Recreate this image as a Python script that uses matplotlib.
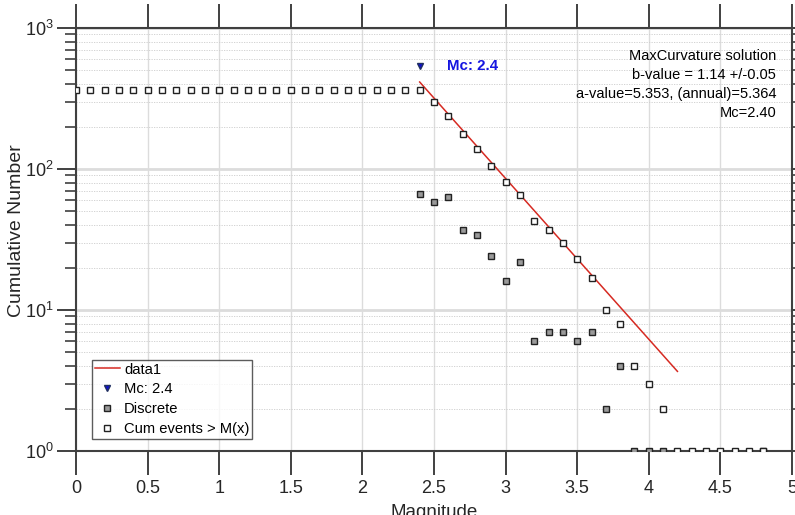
#!/usr/bin/env python3

import numpy as np
from matplotlib import pyplot as plt
from matplotlib.ticker import LogLocator, NullFormatter

plt.rcParams['font.family'] = ['Liberation Sans', 'DejaVu Sans']

## magnitude bins and counts
cum_mag = [0.0, 0.1, 0.2, 0.3, 0.4, 0.5, 0.6, 0.7, 0.8, 0.9, 1.0, 1.1, 1.2,
           1.3, 1.4, 1.5, 1.6, 1.7, 1.8, 1.9, 2.0, 2.1, 2.2, 2.3, 2.4, 2.5,
           2.6, 2.7, 2.8, 2.9, 3.0, 3.1, 3.2, 3.3, 3.4, 3.5, 3.6, 3.7, 3.8,
           3.9, 4.0, 4.1, 4.2, 4.3, 4.4, 4.5, 4.6, 4.7, 4.8]
cum_n = [363, 363, 363, 363, 363, 363, 363, 363, 363, 363, 363, 363, 363,
         363, 363, 363, 363, 363, 363, 363, 363, 363, 363, 363, 363, 297,
         239, 176, 139, 105, 81, 65, 43, 37, 30, 23, 17, 10, 8,
         4, 3, 2, 1, 1, 1, 1, 1, 1, 1]

disc_mag = [2.4, 2.5, 2.6, 2.7, 2.8, 2.9, 3.0, 3.1, 3.2, 3.3, 3.4, 3.5, 3.6,
            3.7, 3.8, 3.9, 4.0, 4.1, 4.8]
disc_n = [66, 58, 63, 37, 34, 24, 16, 22, 6, 7, 7, 6, 7,
          2, 4, 1, 1, 1, 1]

## fitted G-R line end points
fit_mag = [2.4, 4.2]
fit_n = [414, 3.67]

mc_mag = [2.4]
mc_n = [537]

xtick_vals = [0, 0.5, 1, 1.5, 2, 2.5, 3, 3.5, 4, 4.5, 5]
xtick_labels = ['0', '0.5', '1', '1.5', '2', '2.5', '3', '3.5', '4', '4.5', '5']

info_lines = ['MaxCurvature solution',
              'b-value = 1.14 +/-0.05',
              'a-value=5.353, (annual)=5.364',
              'Mc=2.40']

txt_col = '#262626'
ax_col = '#404040'

fig = plt.figure(figsize=(7.95, 5.15), dpi=100)
ax = fig.add_axes([76/795, 1-451/515, (792-76)/795, (451-28)/515])

ax.plot(fit_mag, fit_n, color='#d62a22', lw=1.1, label='data1', zorder=3)
ax.plot(mc_mag, mc_n, 'v', color='#1010d0', mec='#203060', ms=5,
        label='Mc: 2.4', zorder=4)
ax.plot(disc_mag, disc_n, 's', mfc='#9a9a9a', mec='#222222', ms=4.5,
        mew=1.0, ls='none', label='Discrete', zorder=4)
ax.plot(cum_mag, cum_n, 's', mfc='white', mec='#222222', ms=4.5,
        mew=1.0, ls='none', label='Cum events > M(x)', zorder=5)

ax.text(2.59, mc_n[0], 'Mc: 2.4', color='#1515e0', fontsize=10.8,
        fontweight='bold', va='center', ha='left')

ax.text(0.978, 0.951, '\n'.join(info_lines), transform=ax.transAxes,
        ha='right', va='top', fontsize=10.5, color='black', linespacing=1.45)

ax.set_yscale('log')
ax.set_xlim(0, 5)
ax.set_ylim(1, 1000)
ax.set_xticks(xtick_vals)
ax.set_xticklabels(xtick_labels)
ax.yaxis.set_major_locator(LogLocator(base=10, numticks=10))
ax.yaxis.set_minor_locator(LogLocator(base=10, subs=np.arange(2, 10), numticks=20))
ax.yaxis.set_minor_formatter(NullFormatter())

ax.grid(True, axis='x', which='major', color='#dcdcdc', lw=1.0, ls='-')
ax.grid(True, axis='y', which='major', color='#dcdcdc', lw=2.0, ls='-')
ax.grid(True, axis='y', which='minor', color='#cccccc', lw=0.6, ls=(0, (1.5, 1.5)))
ax.set_axisbelow(True)

ax.tick_params(which='both', direction='out', top=True, right=True,
               color=ax_col, labelcolor=txt_col, labelsize=13)
ax.tick_params(axis='x', which='major', length=17, width=1.4, pad=4)
ax.tick_params(axis='y', which='major', length=14, width=1.4, pad=2)
ax.tick_params(axis='y', which='minor', length=8, width=1.2)
for s in ax.spines.values():
    s.set_color(ax_col)
    s.set_linewidth(1.5)

ax.set_xlabel('Magnitude', fontsize=13.5, color=txt_col, labelpad=5)
ax.set_ylabel('Cumulative Number', fontsize=14, color=txt_col)
ax.yaxis.set_label_coords(-0.0712, 0.521)

leg = ax.legend(loc='lower left', bbox_to_anchor=(0.022, 0.028), fontsize=10.6,
                frameon=True, fancybox=False, edgecolor='#333333',
                handlelength=1.7, handletextpad=0.3, borderpad=0.2,
                labelspacing=0.4, borderaxespad=0)
leg.get_frame().set_linewidth(1.0)
for t in leg.get_texts():
    t.set_color('black')

fig.savefig('out.png', dpi=100)
